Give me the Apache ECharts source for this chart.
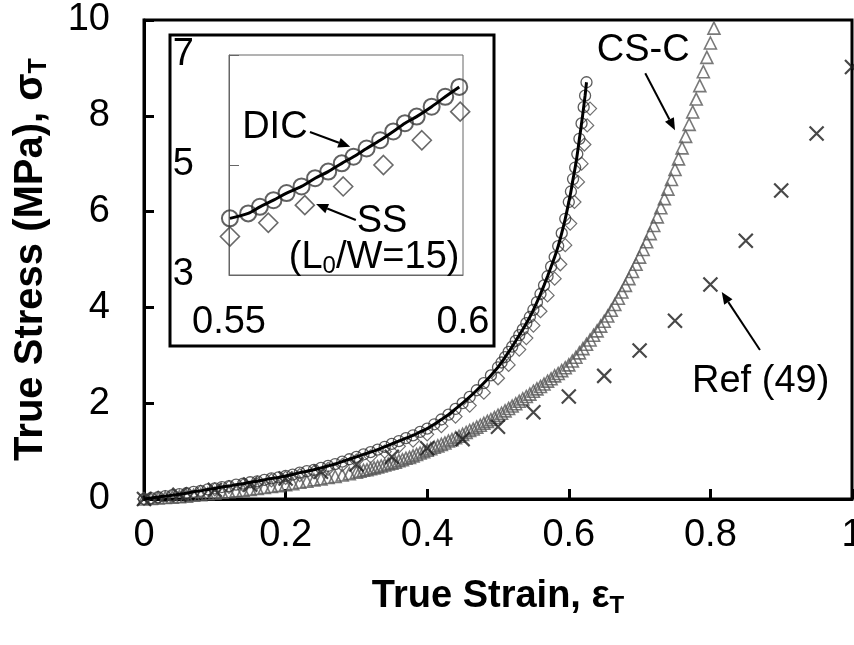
<!DOCTYPE html>
<html>
<head>
<meta charset="utf-8">
<script src="https://cdn.jsdelivr.net/npm/echarts@6/dist/echarts.min.js"></script>
<style>
  html, body { margin: 0; padding: 0; background: #fff; }
  #chart { width: 854px; height: 645px; }
</style>
</head>
<body>
<div id="chart"></div>
<script>
// main plot data (strain, stress)
const dicStrain = [
  0, 0.01, 0.02, 0.03, 0.04, 0.05, 0.06, 0.07, 0.08, 0.09,
  0.10, 0.11, 0.12, 0.13, 0.14, 0.15, 0.16, 0.17, 0.18, 0.19,
  0.20, 0.21, 0.22, 0.23, 0.24, 0.25, 0.26, 0.27, 0.28, 0.29,
  0.30, 0.31, 0.32, 0.33, 0.34, 0.35, 0.36, 0.37, 0.38, 0.39,
  0.40, 0.41, 0.42, 0.43, 0.44, 0.45, 0.46, 0.47, 0.48, 0.49,
  0.50,
  0.505, 0.51, 0.515, 0.52, 0.525, 0.53, 0.535, 0.54, 0.545, 0.55,
  0.555, 0.56, 0.565, 0.57, 0.575, 0.58, 0.585, 0.59, 0.595, 0.60,
  0.603, 0.606, 0.609, 0.612, 0.615, 0.618, 0.621, 0.623, 0.625
];
const dicStress = [
  0, 0.02, 0.04, 0.06, 0.08, 0.10, 0.12, 0.15, 0.17, 0.20,
  0.22, 0.25, 0.27, 0.30, 0.32, 0.35, 0.37, 0.40, 0.43, 0.45,
  0.48, 0.51, 0.55, 0.58, 0.61, 0.65, 0.69, 0.73, 0.78, 0.83,
  0.88, 0.93, 0.98, 1.03, 1.09, 1.15, 1.21, 1.27, 1.33, 1.40,
  1.47, 1.56, 1.66, 1.76, 1.88, 2.00, 2.13, 2.27, 2.42, 2.58,
  2.75,
  2.85, 2.96, 3.07, 3.18, 3.30, 3.42, 3.54, 3.67, 3.80, 3.95,
  4.11, 4.28, 4.46, 4.65, 4.85, 5.05, 5.28, 5.55, 5.85, 6.20,
  6.42, 6.68, 6.92, 7.20, 7.52, 7.84, 8.18, 8.42, 8.70
];

const ssStrain = [
  0, 0.02, 0.04, 0.06, 0.08, 0.10, 0.12, 0.14, 0.16, 0.18,
  0.20, 0.22, 0.24, 0.26, 0.28, 0.30, 0.32, 0.34, 0.36, 0.38,
  0.40, 0.42, 0.44, 0.46, 0.48, 0.50,
  0.515, 0.53, 0.54, 0.55, 0.56, 0.57, 0.58, 0.588, 0.595, 0.602,
  0.608, 0.613, 0.618, 0.622, 0.626, 0.630
];
const ssStress = [
  0, 0.03, 0.07, 0.11, 0.15, 0.20, 0.25, 0.29, 0.34, 0.39,
  0.44, 0.50, 0.56, 0.63, 0.71, 0.80, 0.89, 0.99, 1.10, 1.22,
  1.35, 1.52, 1.72, 1.95, 2.22, 2.52,
  2.80, 3.12, 3.36, 3.62, 3.92, 4.25, 4.60, 4.90, 5.30, 5.75,
  6.20, 6.62, 7.00, 7.40, 7.80, 8.15
];

const cscStrain = [
  0, 0.01, 0.02, 0.03, 0.04, 0.05, 0.06, 0.07, 0.08, 0.09,
  0.10, 0.11, 0.12, 0.13, 0.14, 0.15, 0.16, 0.17, 0.18, 0.19,
  0.20, 0.21, 0.22, 0.23, 0.24, 0.25, 0.26, 0.27, 0.28, 0.29,
  0.30, 0.305, 0.31, 0.315, 0.32, 0.325, 0.33, 0.335, 0.34, 0.345,
  0.35, 0.355, 0.36, 0.365, 0.37, 0.375, 0.38, 0.385, 0.39, 0.395,
  0.40, 0.405, 0.41, 0.415, 0.42, 0.425, 0.43, 0.435, 0.44, 0.445,
  0.45, 0.455, 0.46, 0.465, 0.47, 0.475, 0.48, 0.485, 0.49, 0.495,
  0.50, 0.505, 0.51, 0.515, 0.52, 0.525, 0.53, 0.535, 0.54, 0.545,
  0.55, 0.555, 0.56, 0.565, 0.57, 0.575, 0.58, 0.585, 0.59, 0.595,
  0.60, 0.605, 0.61, 0.615, 0.62, 0.625, 0.63, 0.635, 0.64, 0.645,
  0.65, 0.655, 0.66, 0.665, 0.67, 0.675, 0.68, 0.685, 0.69, 0.695,
  0.70, 0.705, 0.71, 0.715, 0.72, 0.725, 0.73, 0.735, 0.74, 0.745,
  0.75, 0.755, 0.76, 0.765, 0.77, 0.775, 0.78, 0.785, 0.79, 0.795,
  0.80, 0.805
];
const cscStress = [
  0, 0.01, 0.02, 0.03, 0.04, 0.05, 0.06, 0.08, 0.09, 0.11,
  0.12, 0.14, 0.15, 0.17, 0.18, 0.20, 0.22, 0.24, 0.26, 0.28,
  0.30, 0.32, 0.35, 0.37, 0.40, 0.42, 0.45, 0.47, 0.50, 0.53,
  0.56, 0.58, 0.60, 0.61, 0.63, 0.65, 0.67, 0.69, 0.71, 0.73,
  0.75, 0.77, 0.80, 0.82, 0.85, 0.87, 0.90, 0.93, 0.96, 0.99,
  1.02, 1.05, 1.08, 1.11, 1.14, 1.17, 1.21, 1.24, 1.28, 1.31,
  1.35, 1.39, 1.43, 1.46, 1.50, 1.54, 1.58, 1.62, 1.66, 1.70,
  1.75, 1.79, 1.84, 1.89, 1.94, 1.99, 2.04, 2.09, 2.14, 2.19,
  2.25, 2.30, 2.35, 2.40, 2.46, 2.51, 2.57, 2.62, 2.68, 2.74,
  2.80, 2.88, 2.96, 3.05, 3.14, 3.23, 3.32, 3.42, 3.51, 3.61,
  3.71, 3.82, 3.94, 4.06, 4.19, 4.32, 4.46, 4.60, 4.75, 4.90,
  5.05, 5.21, 5.37, 5.54, 5.71, 5.89, 6.08, 6.27, 6.47, 6.67,
  6.88, 7.10, 7.33, 7.57, 7.82, 8.08, 8.35, 8.63, 8.92, 9.22,
  9.52, 9.83
];

const refStrain = [0, 0.05, 0.1, 0.15, 0.2, 0.25, 0.3, 0.35, 0.4, 0.45, 0.5,
  0.55, 0.6, 0.65, 0.7, 0.75, 0.8, 0.85, 0.9, 0.95, 1.0];
const refStress = [0, 0.09, 0.19, 0.30, 0.43, 0.57, 0.72, 0.88, 1.06, 1.25, 1.51,
  1.81, 2.14, 2.57, 3.10, 3.72, 4.48, 5.39, 6.44, 7.63, 9.02];

// inset (zoom 0.55 - 0.6)
const insetDicStrain = [0.5502, 0.5541, 0.5566, 0.5595, 0.5623, 0.5655, 0.5684, 0.5712, 0.5741,
  0.5766, 0.5794, 0.5823, 0.5851, 0.5876, 0.5901, 0.5933, 0.5962, 0.5992];
const insetDicStress = [4.03, 4.12, 4.24, 4.36, 4.49, 4.61, 4.76, 4.88, 5.03,
  5.15, 5.30, 5.45, 5.61, 5.76, 5.88, 6.06, 6.24, 6.42];
const insetSsStrain = [0.5502, 0.5584, 0.5662, 0.5744, 0.5830, 0.5912, 0.5994];
const insetSsStress = [3.70, 3.95, 4.27, 4.61, 5.00, 5.45, 5.97];

const pairs = (xs, ys) => xs.map((x, i) => [x, ys[i]]);

const FONT = "'Liberation Sans', Arial, sans-serif";
const CROSS = "path://M0,0L10,10M10,0L0,10";
const clear = "rgba(0,0,0,0)";

const chart = echarts.init(document.getElementById("chart"));

const options = {
  animation: false,
  backgroundColor: "#fff",
  grid: [
    {
      left: 144, right: 2, top: 20, bottom: 146,
      show: true, borderColor: "#000", borderWidth: 3,
      containLabel: false, outerBoundsMode: "none",
    },
    {
      left: 229, top: 55, width: 234, height: 220,
      show: true, borderColor: "#666", borderWidth: 1, z: 21,
      containLabel: false, outerBoundsMode: "none",
    },
  ],
  xAxis: [
    {
      type: "value", gridIndex: 0, min: 0, max: 1, interval: 0.2,
      axisLine: { show: true, onZero: false, lineStyle: { color: "#000", width: 3 } },
      axisTick: { show: true, inside: true, length: 10, lineStyle: { color: "#000", width: 3 } },
      axisLabel: { color: "#000", fontSize: 38, fontFamily: FONT, margin: 18 },
      splitLine: { show: false },
      name: "{a|True Strain, ε}{b|T}",
      nameLocation: "middle",
      nameGap: 77,
      nameTextStyle: {
        rich: {
          a: { fontSize: 38, fontWeight: "bold", fontFamily: FONT, color: "#000" },
          b: { fontSize: 24, fontWeight: "bold", fontFamily: FONT, color: "#000", padding: [18, 0, 0, 0] },
        },
      },
    },
    {
      type: "value", gridIndex: 1, min: 0.55, max: 0.6, interval: 0.05, z: 21,
      axisLine: { show: true, onZero: false, lineStyle: { color: "#666", width: 1 } },
      axisTick: { show: false },
      axisLabel: { color: "#000", fontSize: 38, fontFamily: FONT, margin: 29 },
      splitLine: { show: false },
    },
  ],
  yAxis: [
    {
      type: "value", gridIndex: 0, min: 0, max: 10, interval: 2,
      axisLine: { show: true, onZero: false, lineStyle: { color: "#000", width: 3 } },
      axisTick: { show: true, inside: true, length: 10, lineStyle: { color: "#000", width: 3 } },
      axisLabel: { color: "#000", fontSize: 38, fontFamily: FONT, margin: 34 },
      splitLine: { show: false },
      name: "{a|True Stress (MPa), σ}{b|T}",
      nameLocation: "middle",
      nameGap: 92,
      nameTextStyle: {
        rich: {
          a: { fontSize: 40, fontWeight: "bold", fontFamily: FONT, color: "#000" },
          b: { fontSize: 25, fontWeight: "bold", fontFamily: FONT, color: "#000", padding: [18, 0, 0, 0] },
        },
      },
    },
    {
      type: "value", gridIndex: 1, min: 3, max: 7, interval: 2, z: 21,
      axisLine: { show: true, onZero: false, lineStyle: { color: "#666", width: 1 } },
      axisTick: { show: true, inside: true, length: 10, lineStyle: { color: "#666", width: 1 } },
      axisLabel: { color: "#000", fontSize: 38, fontFamily: FONT, margin: 35 },
      splitLine: { show: false },
    },
  ],
  series: [
    {
      name: "CS-C", type: "scatter", xAxisIndex: 0, yAxisIndex: 0,
      symbol: "triangle", symbolSize: 12, z: 2,
      itemStyle: { color: clear, borderColor: "#575757", borderWidth: 1.6 },
      data: pairs(cscStrain, cscStress),
    },
    {
      name: "Ref (49)", type: "scatter", xAxisIndex: 0, yAxisIndex: 0,
      symbol: CROSS, symbolSize: 14, z: 3,
      itemStyle: { color: clear, borderColor: "#1a1a1a", borderWidth: 2.2 },
      data: pairs(refStrain, refStress),
    },
    {
      name: "SS", type: "scatter", xAxisIndex: 0, yAxisIndex: 0,
      symbol: "diamond", symbolSize: 13, z: 4,
      itemStyle: { color: clear, borderColor: "#4a4a4a", borderWidth: 1.2 },
      data: pairs(ssStrain, ssStress),
    },
    {
      name: "DIC", type: "scatter", xAxisIndex: 0, yAxisIndex: 0,
      symbol: "circle", symbolSize: 11, z: 5,
      itemStyle: { color: clear, borderColor: "#333", borderWidth: 1.3 },
      data: pairs(dicStrain, dicStress),
    },
    {
      name: "DIC fit", type: "line", xAxisIndex: 0, yAxisIndex: 0,
      symbol: "none", smooth: 0.3, z: 6,
      lineStyle: { color: "#000", width: 3 },
      data: pairs(dicStrain, dicStress),
    },
    // inset
    {
      name: "SS inset", type: "scatter", xAxisIndex: 1, yAxisIndex: 1,
      symbol: "diamond", symbolSize: 19, z: 22,
      itemStyle: { color: clear, borderColor: "#444", borderWidth: 1.6 },
      data: pairs(insetSsStrain, insetSsStress),
    },
    {
      name: "DIC inset", type: "scatter", xAxisIndex: 1, yAxisIndex: 1,
      symbol: "circle", symbolSize: 16, z: 23,
      itemStyle: { color: clear, borderColor: "#3a3a3a", borderWidth: 2 },
      data: pairs(insetDicStrain, insetDicStress),
    },
    {
      name: "DIC inset fit", type: "line", xAxisIndex: 1, yAxisIndex: 1,
      symbol: "none", smooth: 0.3, z: 24,
      lineStyle: { color: "#000", width: 3 },
      data: pairs(insetDicStrain, insetDicStress),
    },
  ],
};

chart.setOption(options);

// annotations, placed in data coordinates
const notes = [
  { grid: 0, at: [0.705, 9.37], text: "CS-C" },
  { grid: 0, at: [0.871, 2.46], text: "Ref (49)" },
  { grid: 1, at: [0.5598, 5.69], text: "DIC" },
  { grid: 1, at: [0.5827, 3.98], text: "SS" },
  { grid: 1, at: [0.581, 3.31], text: "{t|(L}{s|0}{t|/W=15)}" },
];
const arrows = [
  { grid: 0, from: [0.708, 8.89], to: [0.750, 7.70] },
  { grid: 0, from: [0.870, 3.11], to: [0.816, 4.32] },
  { grid: 1, from: [0.5673, 5.60], to: [0.5759, 5.33] },
  { grid: 1, from: [0.5771, 4.00], to: [0.5686, 4.29] },
];

const px = (g, p) => chart.convertToPixel({ gridIndex: g }, p);
const graphic = [
  {
    type: "rect", z: 20,
    shape: { x: 170, y: 35, width: 324, height: 311 },
    style: { fill: "#fff", stroke: "#000", lineWidth: 3 },
  },
];
notes.forEach((n) => {
  const [x, y] = px(n.grid, n.at);
  graphic.push({
    type: "text", z: 30, x, y,
    style: {
      text: n.text, fill: "#000", font: "38px " + FONT,
      align: "center", verticalAlign: "middle",
      rich: {
        t: { fontSize: 38, fontFamily: FONT, fill: "#000" },
        s: { fontSize: 24, fontFamily: FONT, fill: "#000", padding: [16, 0, 0, 0] },
      },
    },
  });
});
arrows.forEach((a) => {
  const [x1, y1] = px(a.grid, a.from);
  const [x2, y2] = px(a.grid, a.to);
  const ang = Math.atan2(y2 - y1, x2 - x1);
  const L = 12, W = 5;
  const bx = x2 - L * Math.cos(ang), by = y2 - L * Math.sin(ang);
  graphic.push({
    type: "line", z: 30,
    shape: { x1, y1, x2: bx, y2: by },
    style: { stroke: "#000", lineWidth: 2 },
  });
  graphic.push({
    type: "polygon", z: 30,
    shape: {
      points: [
        [x2, y2],
        [bx + W * Math.sin(ang), by - W * Math.cos(ang)],
        [bx - W * Math.sin(ang), by + W * Math.cos(ang)],
      ],
    },
    style: { fill: "#000" },
  });
});
chart.setOption({ graphic });

window.addEventListener("resize", () => chart.resize());
</script>
</body>
</html>
